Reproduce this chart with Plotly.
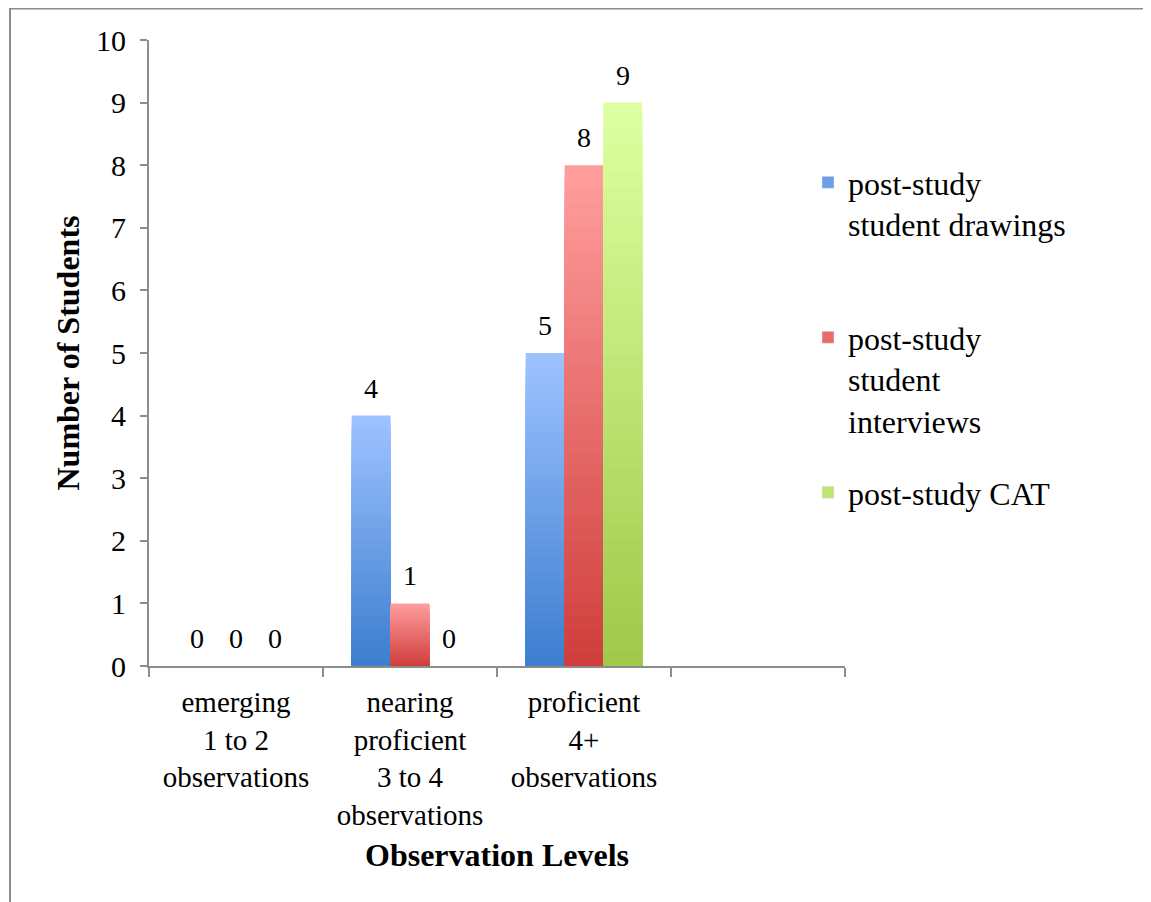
import plotly.graph_objects as go

categories = ["emerging<br>1 to 2<br>observations",
              "nearing<br>proficient<br>3 to 4<br>observations",
              "proficient<br>4+<br>observations",
              " "]
series_names = ["post-study<br>student drawings",
                "post-study<br>student<br>interviews",
                "post-study CAT"]
drawings = [0, 4, 5, None]
interviews = [0, 1, 8, None]
cat_scores = [0, 0, 9, None]
series_values = [drawings, interviews, cat_scores]

# gradient colours (bottom, top) per series
grad_bottom = [(58, 124, 206), (206, 60, 58), (158, 200, 72)]
grad_top = [(157, 194, 255), (255, 157, 157), (222, 255, 160)]

FONT = "Liberation Serif"
N = 40
BARGAP = 0.33

def mix(a, b, t):
    return "rgb(%d,%d,%d)" % tuple(round(a[i] + (b[i] - a[i]) * t) for i in range(3))

W, H = 1151, 902
L, R, T, B = 141, 314, 32, 244
pw, ph = W - L - R, H - T - B

def px_x(p):
    return (p - L) / pw

def px_y(p):
    return (H - B - p) / ph

fig = go.Figure()
legends = ["legend", "legend2", "legend3"]
bar_px = pw / len(categories) * (1 - BARGAP) / len(series_values)
annotations = []
for s, vals in enumerate(series_values):
    # gradient: overlapping bars from tallest (light) to shortest (dark)
    for k in range(N, 0, -1):
        frac = k / N
        fig.add_trace(go.Bar(
            x=categories,
            y=[None if v is None else v * frac for v in vals],
            offsetgroup=str(s),
            marker=dict(color=mix(grad_bottom[s], grad_top[s], frac), line=dict(width=0)),
            showlegend=False, hoverinfo="skip",
        ))
    # legend marker
    fig.add_trace(go.Bar(
        x=[None], y=[None], name=series_names[s],
        marker=dict(color=mix(grad_bottom[s], grad_top[s], 0.5)),
        showlegend=True, legend=legends[s],
    ))
    # value labels
    for c, v in zip(categories, vals):
        if v is None:
            continue
        annotations.append(dict(
            x=c, y=v, xref="x", yref="y", text=str(v), showarrow=False,
            xanchor="center", yanchor="bottom",
            xshift=(s - 1) * bar_px, yshift=10,
            font=dict(family=FONT, size=28, color="black"),
        ))

leg_common = dict(font=dict(family=FONT, size=32, color="black"),
                  bgcolor="rgba(0,0,0,0)", valign="top",
                  xanchor="left", yanchor="top", itemwidth=30,
                  tracegroupgap=0)

fig.update_layout(
    width=W, height=H,
    margin=dict(l=L, r=R, t=T, b=B),
    paper_bgcolor="white", plot_bgcolor="white",
    barmode="group", bargap=BARGAP, bargroupgap=0,
    font=dict(family=FONT, size=30, color="black"),
    legend=dict(x=px_x(800), y=px_y(147), **leg_common),
    legend2=dict(x=px_x(800), y=px_y(302), **leg_common),
    legend3=dict(x=px_x(800), y=px_y(457), **leg_common),
    annotations=annotations,
    xaxis=dict(
        type="category", categoryorder="array", categoryarray=categories,
        range=[-0.5, 3.5],
        showline=True, linecolor="#8c8c8c", linewidth=2,
        ticks="outside", tickson="boundaries", ticklen=9, tickcolor="#8c8c8c", tickwidth=2,
        tickfont=dict(family=FONT, size=29, color="black"),
        ticklabelstandoff=9,
        showgrid=False, zeroline=False,
        title=dict(text="<b>Observation Levels</b>",
                   font=dict(family=FONT, size=32, color="black"), standoff=14),
    ),
    yaxis=dict(
        range=[0, 10], dtick=1, tick0=0,
        showline=True, linecolor="#8c8c8c", linewidth=2,
        ticks="outside", ticklen=7, tickcolor="#8c8c8c", tickwidth=2,
        tickfont=dict(family=FONT, size=30, color="black"),
        ticklabelstandoff=8,
        showgrid=False, zeroline=False,
        title=dict(text="<b>Number of Students</b>",
                   font=dict(family=FONT, size=32, color="black"), standoff=7),
    ),
    shapes=[dict(type="rect", xref="paper", yref="paper",
                 x0=px_x(2), x1=px_x(W + 20), y0=px_y(H + 20), y1=px_y(0.5),
                 line=dict(color="#8c8c8c", width=2), fillcolor="rgba(0,0,0,0)", layer="below")],
)

fig.write_html("out.html")
